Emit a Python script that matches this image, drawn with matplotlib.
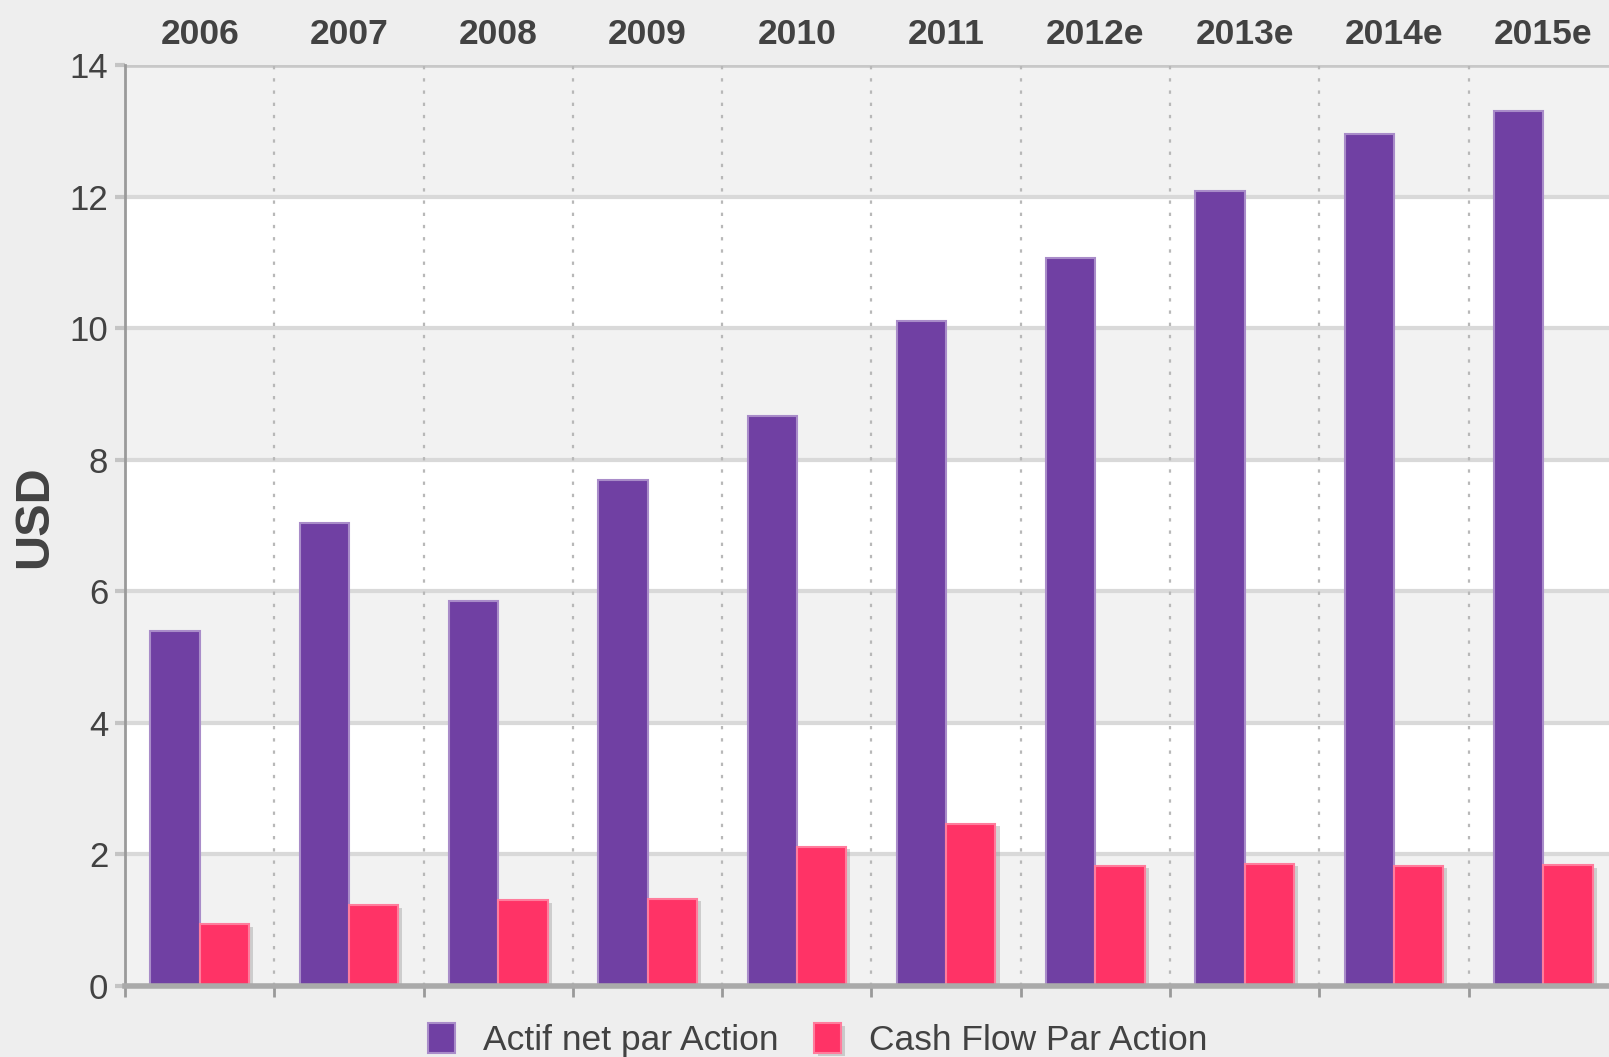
import numpy as np
import matplotlib
matplotlib.use("Agg")
import matplotlib.pyplot as plt
import matplotlib.patheffects as pe

plt.rcParams["font.family"] = ["Liberation Sans Narrow", "Liberation Sans", "DejaVu Sans"]

years = ["2006", "2007", "2008", "2009", "2010", "2011", "2012e", "2013e", "2014e", "2015e"]
actif_net = [5.40, 7.04, 5.85, 7.69, 8.66, 10.11, 11.07, 12.08, 12.95, 13.30]
cash_flow = [0.94, 1.23, 1.31, 1.33, 2.12, 2.47, 1.83, 1.86, 1.83, 1.84]
labels = ["Actif net par Action", "Cash Flow Par Action"]

purple = "#7040a3"
pink = "#ff3366"
txt = "#424242"

fig = plt.figure(figsize=(16.09, 10.57), dpi=100, facecolor="#eeeeee")
W, H = 1609, 1057
ax = fig.add_axes([125 / W, 1 - 986 / H, 1493 / W, (986 - 65) / H])
ax.set_facecolor("white")

x = np.arange(len(years))
ax.set_xlim(-0.5, len(years) - 0.5)
ax.set_ylim(0, 14)

# alternating bands + grid
for lo in range(0, 14, 4):
    ax.axhspan(lo, lo + 2, color="#f2f2f2", zorder=0, lw=0)
for yv in range(0, 15, 2):
    ax.axhline(yv, color="#d9d9d9", lw=3, zorder=1)
ax.axhline(14, color="#c8c8c8", lw=4, zorder=1)
for b in np.arange(-0.5, len(years), 1.0)[1:]:
    ax.axvline(b, color="#b8b8b8", lw=1.6, ls=(0, (1.5, 4)), zorder=1)

w = 0.33
shadow = [pe.SimplePatchShadow(offset=(3, -2), shadow_rgbFace="#888888", alpha=0.35), pe.Normal()]
b1 = ax.bar(x - w / 2, actif_net, w, color=purple, edgecolor="#a98cc9", lw=1.5, zorder=3, label=labels[0])
b2 = ax.bar(x + w / 2, cash_flow, w, color=pink, edgecolor="#ff7c9c", lw=1.5, zorder=3, label=labels[1])
for p in b2:
    p.set_path_effects(shadow)

# axes styling
for s in ["top", "right"]:
    ax.spines[s].set_visible(False)
ax.spines["left"].set_color("#9a9a9a")
ax.spines["left"].set_linewidth(2)
ax.spines["bottom"].set_color("#aaaaaa")
ax.spines["bottom"].set_linewidth(4)
ax.spines["bottom"].set_zorder(4)

ax.set_xticks(x)
ax.set_xticklabels(years, fontsize=25.5, fontweight="bold", color=txt)
ax.tick_params(axis="x", which="major", top=True, bottom=False, labeltop=True,
               labelbottom=False, length=0, pad=10)
ax.set_xticks(np.arange(-0.5, len(years), 1.0), minor=True)
ax.tick_params(axis="x", which="minor", bottom=True, length=8, width=2, color="#999999")

ax.set_yticks(range(0, 15, 2))
ax.tick_params(axis="y", labelsize=25, labelcolor=txt, length=7, width=3,
               color="#c4c4c4", pad=5)

fig.text(35 / W, 1 - 517 / H, "USD", rotation=90, ha="center", va="center",
         fontsize=35, fontweight="bold", color=txt, family=["Liberation Sans", "DejaVu Sans"])

fig.legend(handles=[b1, b2], labels=labels, loc="center", ncol=2,
           bbox_to_anchor=(818 / W, 1 - 1040 / H), frameon=False, fontsize=25.5,
           labelcolor=txt, handlelength=0.75, handleheight=0.95, handletextpad=0.8,
           columnspacing=1.0)

fig.savefig("out.png", dpi=100, facecolor=fig.get_facecolor())
